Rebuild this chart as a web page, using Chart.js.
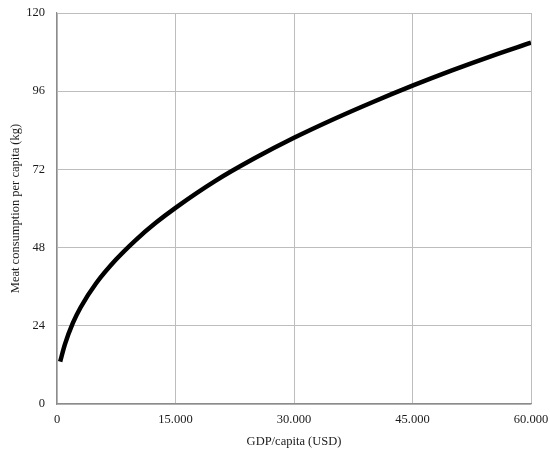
<!DOCTYPE html>
<html>
<head>
<meta charset="utf-8">
<script src="https://cdn.jsdelivr.net/npm/chart.js@4/dist/chart.umd.min.js"></script>
<style>
  html, body { margin: 0; padding: 0; background: #fff; }
  #wrap { width: 550px; height: 454px; }
</style>
</head>
<body>
<div id="wrap"><canvas id="c" width="550" height="454"></canvas></div>
<script>
// GDP per capita (USD) and meat consumption per capita (kg)
const gdpPerCapita = [400, 1000, 2000, 3000, 5000, 7500, 10000, 12500, 15000, 20000, 25000, 30000, 35000, 40000, 45000, 50000, 55000, 60000];
const meatConsumption = [13.0, 18.3, 24.8, 29.7, 37.2, 44.4, 50.4, 55.6, 60.2, 68.4, 75.4, 81.7, 87.4, 92.7, 97.7, 102.4, 106.8, 110.9];
const xTicks = [0, 15000, 30000, 45000, 60000];
const yTicks = [0, 24, 48, 72, 96, 120];

const points = gdpPerCapita.map((x, i) => ({ x: x, y: meatConsumption[i] }));
const fmt = v => String(v).replace(/\B(?=(\d{3})+(?!\d))/g, '.');
const FONT = { family: '"Liberation Serif", "DejaVu Serif", serif', size: 12.5 };

new Chart(document.getElementById('c'), {
  type: 'scatter',
  data: {
    datasets: [{
      data: points,
      showLine: true,
      borderColor: '#000',
      borderWidth: 4.5,
      pointRadius: 0,
      cubicInterpolationMode: 'monotone',
      borderCapStyle: 'butt'
    }]
  },
  options: {
    responsive: false,
    animation: false,
    devicePixelRatio: 1,
    layout: { padding: { top: 13, right: 19, left: 0, bottom: 0 } },
    plugins: { legend: { display: false }, tooltip: { enabled: false } },
    scales: {
      x: {
        type: 'linear',
        min: 0, max: 60000,
        afterBuildTicks: s => { s.ticks = xTicks.map(v => ({ value: v })); },
        afterFit: s => { s.height = 50; s.paddingLeft = 0; s.paddingRight = 0; },
        grid: { color: '#bdbdbd', drawTicks: false, lineWidth: 1 },
        border: { color: '#8c8c8c', width: 1.2 },
        ticks: { color: '#1a1a1a', font: FONT, padding: 8, maxRotation: 0, callback: v => fmt(v) },
        title: { display: true, text: 'GDP/capita (USD)', color: '#1a1a1a', font: FONT, padding: { top: 3, bottom: 5 } }
      },
      y: {
        min: 0, max: 120,
        afterBuildTicks: s => { s.ticks = yTicks.map(v => ({ value: v })); },
        afterFit: s => { s.width = 57; s.paddingTop = 0; s.paddingBottom = 0; },
        grid: { color: '#bdbdbd', drawTicks: false, lineWidth: 1 },
        border: { color: '#8c8c8c', width: 1.2 },
        ticks: { color: '#1a1a1a', font: FONT, padding: 12 },
        title: { display: true, text: 'Meat consumption per capita (kg)', color: '#1a1a1a', font: FONT, padding: { top: 8, bottom: 0 } }
      }
    }
  }
});
</script>
</body>
</html>
